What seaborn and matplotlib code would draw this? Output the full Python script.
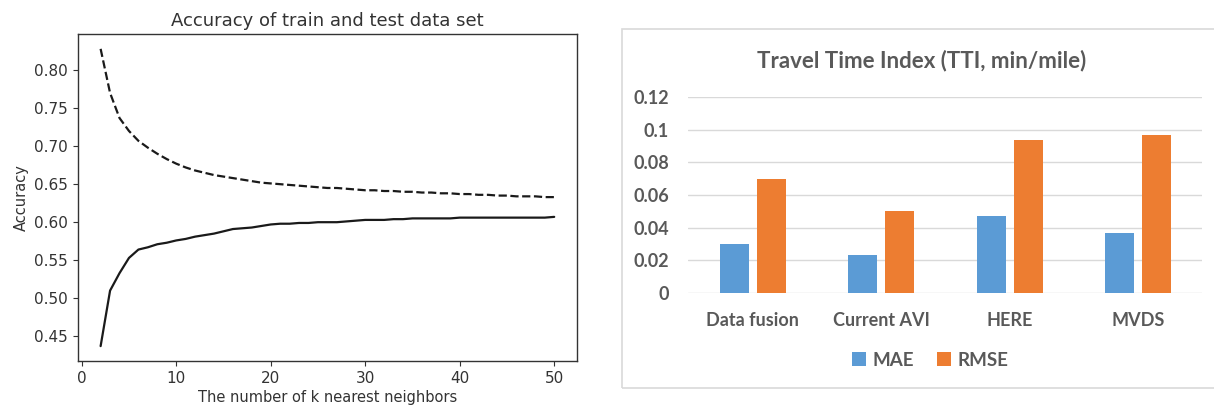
import numpy as np
import pandas as pd
import matplotlib
matplotlib.use('Agg')
import matplotlib.pyplot as plt
from matplotlib.patches import Rectangle
import seaborn as sns

# left chart: accuracy vs k
k_values = list(range(2, 51))
train_acc = [0.828, 0.770, 0.737, 0.720, 0.707, 0.698, 0.690, 0.683, 0.677, 0.672,
             0.668, 0.665, 0.662, 0.660, 0.658, 0.656, 0.654, 0.652, 0.651, 0.650,
             0.649, 0.648, 0.647, 0.646, 0.645, 0.645, 0.644, 0.643, 0.642, 0.642,
             0.641, 0.641, 0.640, 0.640, 0.639, 0.639, 0.638, 0.638, 0.637, 0.637,
             0.636, 0.636, 0.635, 0.635, 0.634, 0.634, 0.634, 0.633, 0.633]
test_acc = [0.437, 0.510, 0.533, 0.553, 0.564, 0.567, 0.571, 0.573, 0.576, 0.578,
            0.581, 0.583, 0.585, 0.588, 0.591, 0.592, 0.593, 0.595, 0.597, 0.598,
            0.598, 0.599, 0.599, 0.600, 0.600, 0.600, 0.601, 0.602, 0.603, 0.603,
            0.603, 0.604, 0.604, 0.605, 0.605, 0.605, 0.605, 0.605, 0.606, 0.606,
            0.606, 0.606, 0.606, 0.606, 0.606, 0.606, 0.606, 0.606, 0.607]

# right chart: TTI errors
methods = ['Data fusion', 'Current AVI', 'HERE', 'MVDS']
mae = [0.030, 0.023, 0.047, 0.037]
rmse = [0.070, 0.0505, 0.0935, 0.097]

sns.set_style('white')
plt.rcParams['font.family'] = ['DejaVu Sans']

fig = plt.figure(figsize=(12.14, 4.09), dpi=100)

# ---- left
ax1 = fig.add_axes([0.0642, 0.1174, 0.411, 0.7995])
sns.lineplot(x=k_values, y=train_acc, ax=ax1, color='#1a1a1a', linestyle='--', linewidth=1.6)
sns.lineplot(x=k_values, y=test_acc, ax=ax1, color='#1a1a1a', linewidth=1.6)
txt = '#333333'
ax1.set_title('Accuracy of train and test data set', fontsize=13, color=txt, pad=6)
ax1.set_xlabel('The number of k nearest neighbors', fontsize=10.5, color=txt, labelpad=3)
ax1.set_ylabel('Accuracy', fontsize=10.5, color=txt)
ax1.set_yticks([0.45, 0.50, 0.55, 0.60, 0.65, 0.70, 0.75, 0.80])
ax1.set_yticklabels(['0.45', '0.50', '0.55', '0.60', '0.65', '0.70', '0.75', '0.80'])
ax1.set_xticks([0, 10, 20, 30, 40, 50])
ax1.tick_params(axis='both', labelsize=11, labelcolor=txt, length=3.5, width=0.8,
                color='#333333', bottom=True, left=True)
for s in ax1.spines.values():
    s.set_color('#333333')
    s.set_linewidth(1.0)

# ---- right
gray = '#595959'
df = pd.DataFrame({
    'method': methods * 2,
    'value': mae + rmse,
    'metric': ['MAE'] * len(methods) + ['RMSE'] * len(methods),
})

fig.patches.append(Rectangle((0.512, 0.052), 0.6, 0.876, transform=fig.transFigure,
                             facecolor='none', edgecolor='#d9d9d9', linewidth=1.2))

ax2 = fig.add_axes([0.5671, 0.2836, 0.4234, 0.4792])
sns.barplot(data=df, x='method', y='value', hue='metric', ax=ax2,
            palette=['#5b9bd5', '#ed7d31'], width=0.577, gap=0.216, saturation=1,
            linewidth=0, edgecolor='none')
ax2.set_ylim(0, 0.12)
ax2.set_yticks([0, 0.02, 0.04, 0.06, 0.08, 0.1, 0.12])
ax2.set_yticklabels(['0', '0.02', '0.04', '0.06', '0.08', '0.1', '0.12'])
ax2.yaxis.grid(True, color='#d9d9d9', linewidth=1.0)
ax2.set_axisbelow(True)
for s in ax2.spines.values():
    s.set_visible(False)
ax2.set_xlabel('')
ax2.set_ylabel('')
ax2.tick_params(axis='both', length=0, labelsize=13, labelcolor=gray)
ax2.tick_params(axis='y', pad=14)
ax2.tick_params(axis='x', pad=14)
for lab in ax2.get_yticklabels() + ax2.get_xticklabels():
    lab.set_family(['Lato', 'DejaVu Sans'])
    lab.set_fontweight('bold')

fig.text(0.759, 0.853, 'Travel Time Index (TTI, min/mile)', ha='center', va='center',
         fontsize=16, fontweight='bold', color=gray, family=['Lato', 'DejaVu Sans'])

leg = ax2.legend(loc='center', bbox_to_anchor=(0.47, -0.342), ncol=2, frameon=False,
                 handlelength=0.75, handleheight=0.75, handletextpad=0.35, columnspacing=1.2,
                 prop={'family': ['Lato', 'DejaVu Sans'], 'size': 13.5, 'weight': 'bold'})
for t in leg.get_texts():
    t.set_color(gray)

fig.savefig('out.png', dpi=100)
